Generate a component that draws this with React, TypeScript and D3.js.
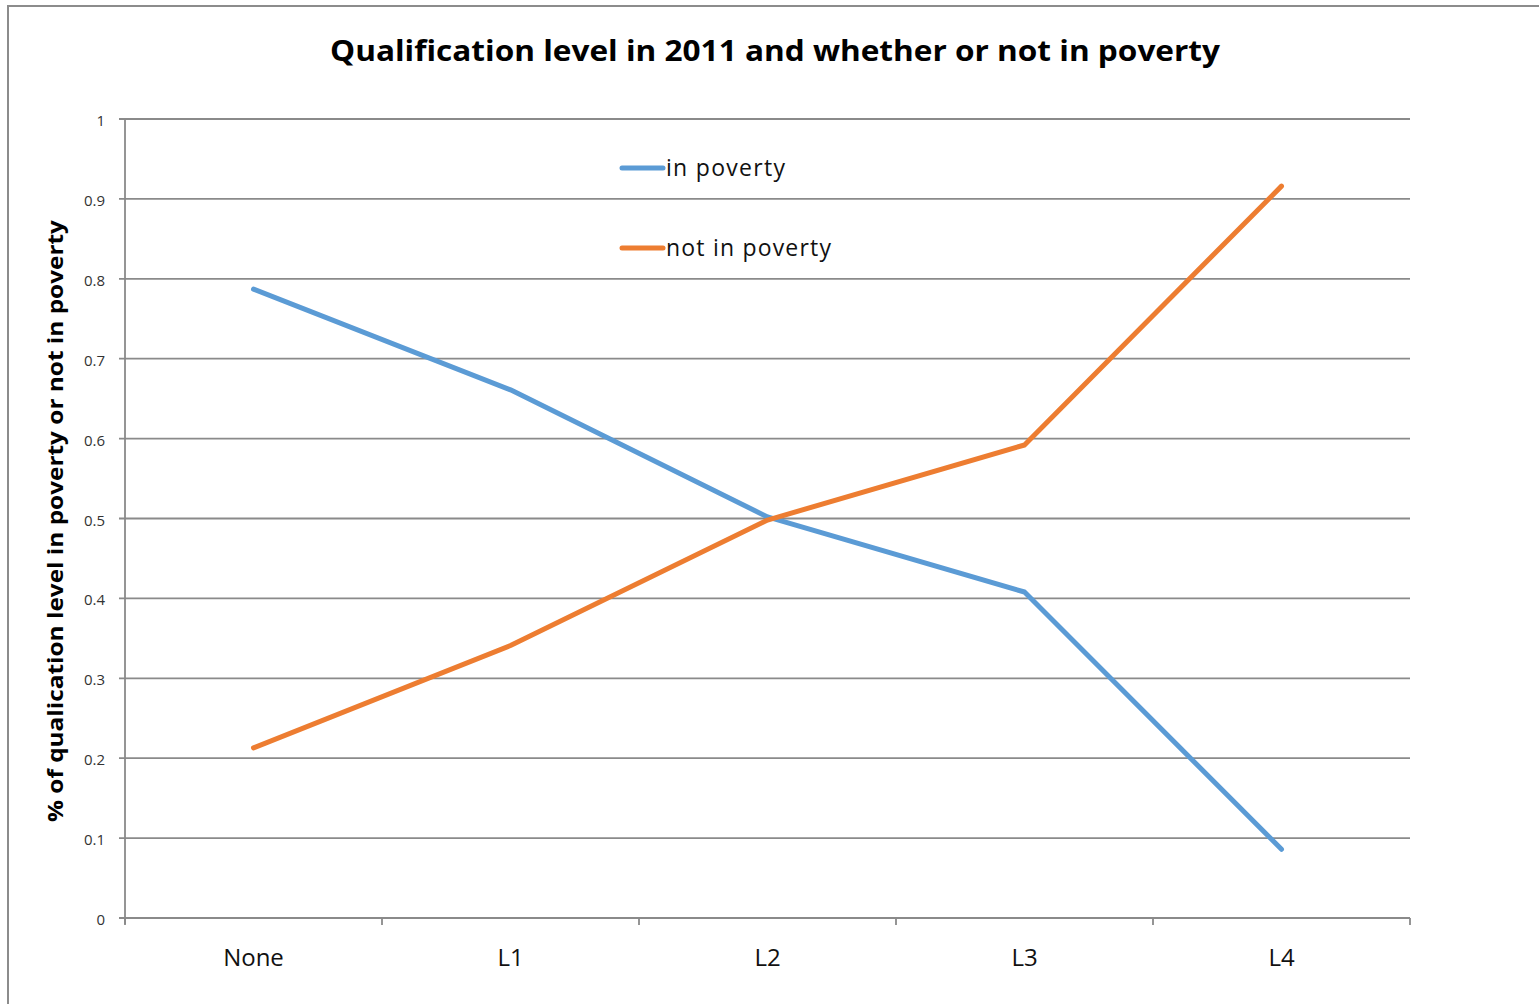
import React from "react";
import * as d3 from "d3";

const categories = ["None", "L1", "L2", "L3", "L4"];
const inPoverty = [0.787, 0.661, 0.502, 0.408, 0.086];
const notInPoverty = [0.213, 0.341, 0.498, 0.592, 0.916];
const yTicks = [0, 0.1, 0.2, 0.3, 0.4, 0.5, 0.6, 0.7, 0.8, 0.9, 1];
const seriesNames = ["in poverty", "not in poverty"];
const seriesColors = ["#5b9bd5", "#ed7d31"];
const legendWidths = [119, 165];

const W = 1539;
const H = 1004;
const plot = { left: 125, right: 1410, top: 119, bottom: 918 };
const FONT = "'Open Sans', 'Noto Sans', sans-serif";

export default function App() {
  const x = d3.scaleBand<string>().domain(categories).range([plot.left, plot.right]);
  const y = d3.scaleLinear().domain([0, 1]).range([plot.bottom, plot.top]);
  const line = d3
    .line<number>()
    .x((_, i) => (x(categories[i]) as number) + x.bandwidth() / 2)
    .y((d) => y(d));
  const series = [inPoverty, notInPoverty];
  const bounds = categories.map((c) => x(c) as number).concat([plot.right]);
  const fmt = (v: number) => (v === 0 || v === 1 ? String(v) : v.toFixed(1));

  return (
    <svg
      width={W}
      height={H}
      style={{ position: "absolute", left: 0, top: 0, background: "#fff" }}
      fontFamily={FONT}
    >
      <rect x={8} y={6} width={W + 10} height={H + 10} fill="#fff" stroke="#8c8c8c" strokeWidth={2} />
      <text
        x={775}
        y={61}
        textAnchor="middle"
        fontSize={29}
        fontWeight="bold"
        fill="#000"
        textLength={890}
        lengthAdjust="spacingAndGlyphs"
      >
        Qualification level in 2011 and whether or not in poverty
      </text>
      {yTicks.map((t) => (
        <g key={t}>
          <line x1={plot.left - 6} x2={plot.right} y1={y(t)} y2={y(t)} stroke="#8a8a8a" strokeWidth={1.8} />
          <text x={105} y={y(t) + 7} textAnchor="end" fontSize={15} fill="#333">
            {fmt(t)}
          </text>
        </g>
      ))}
      <line x1={plot.left} x2={plot.left} y1={plot.top} y2={plot.bottom + 6} stroke="#8a8a8a" strokeWidth={1.8} />
      {bounds.map((b, i) => (
        <line key={i} x1={b} x2={b} y1={plot.bottom} y2={plot.bottom + 7} stroke="#8a8a8a" strokeWidth={1.8} />
      ))}
      {categories.map((c) => (
        <text
          key={c}
          x={(x(c) as number) + x.bandwidth() / 2}
          y={966}
          textAnchor="middle"
          fontSize={24}
          fill="#111"
        >
          {c}
        </text>
      ))}
      <text
        transform={`translate(63,${(220 + 822) / 2}) rotate(-90)`}
        textAnchor="middle"
        fontSize={22}
        fontWeight="bold"
        fill="#000"
        textLength={602}
        lengthAdjust="spacingAndGlyphs"
      >
        % of qualication level in poverty or not in poverty
      </text>
      {series.map((s, i) => (
        <path
          key={i}
          d={line(s) || ""}
          fill="none"
          stroke={seriesColors[i]}
          strokeWidth={5}
          strokeLinecap="round"
          strokeLinejoin="round"
        />
      ))}
      {seriesNames.map((n, i) => (
        <g key={n} transform={`translate(0,${168 + i * 80})`}>
          <line x1={622} x2={663} y1={0} y2={0} stroke={seriesColors[i]} strokeWidth={5} strokeLinecap="round" />
          <text
            x={666}
            y={8}
            fontSize={23}
            fill="#111"
            textLength={legendWidths[i]}
            lengthAdjust="spacing"
          >
            {n}
          </text>
        </g>
      ))}
    </svg>
  );
}
